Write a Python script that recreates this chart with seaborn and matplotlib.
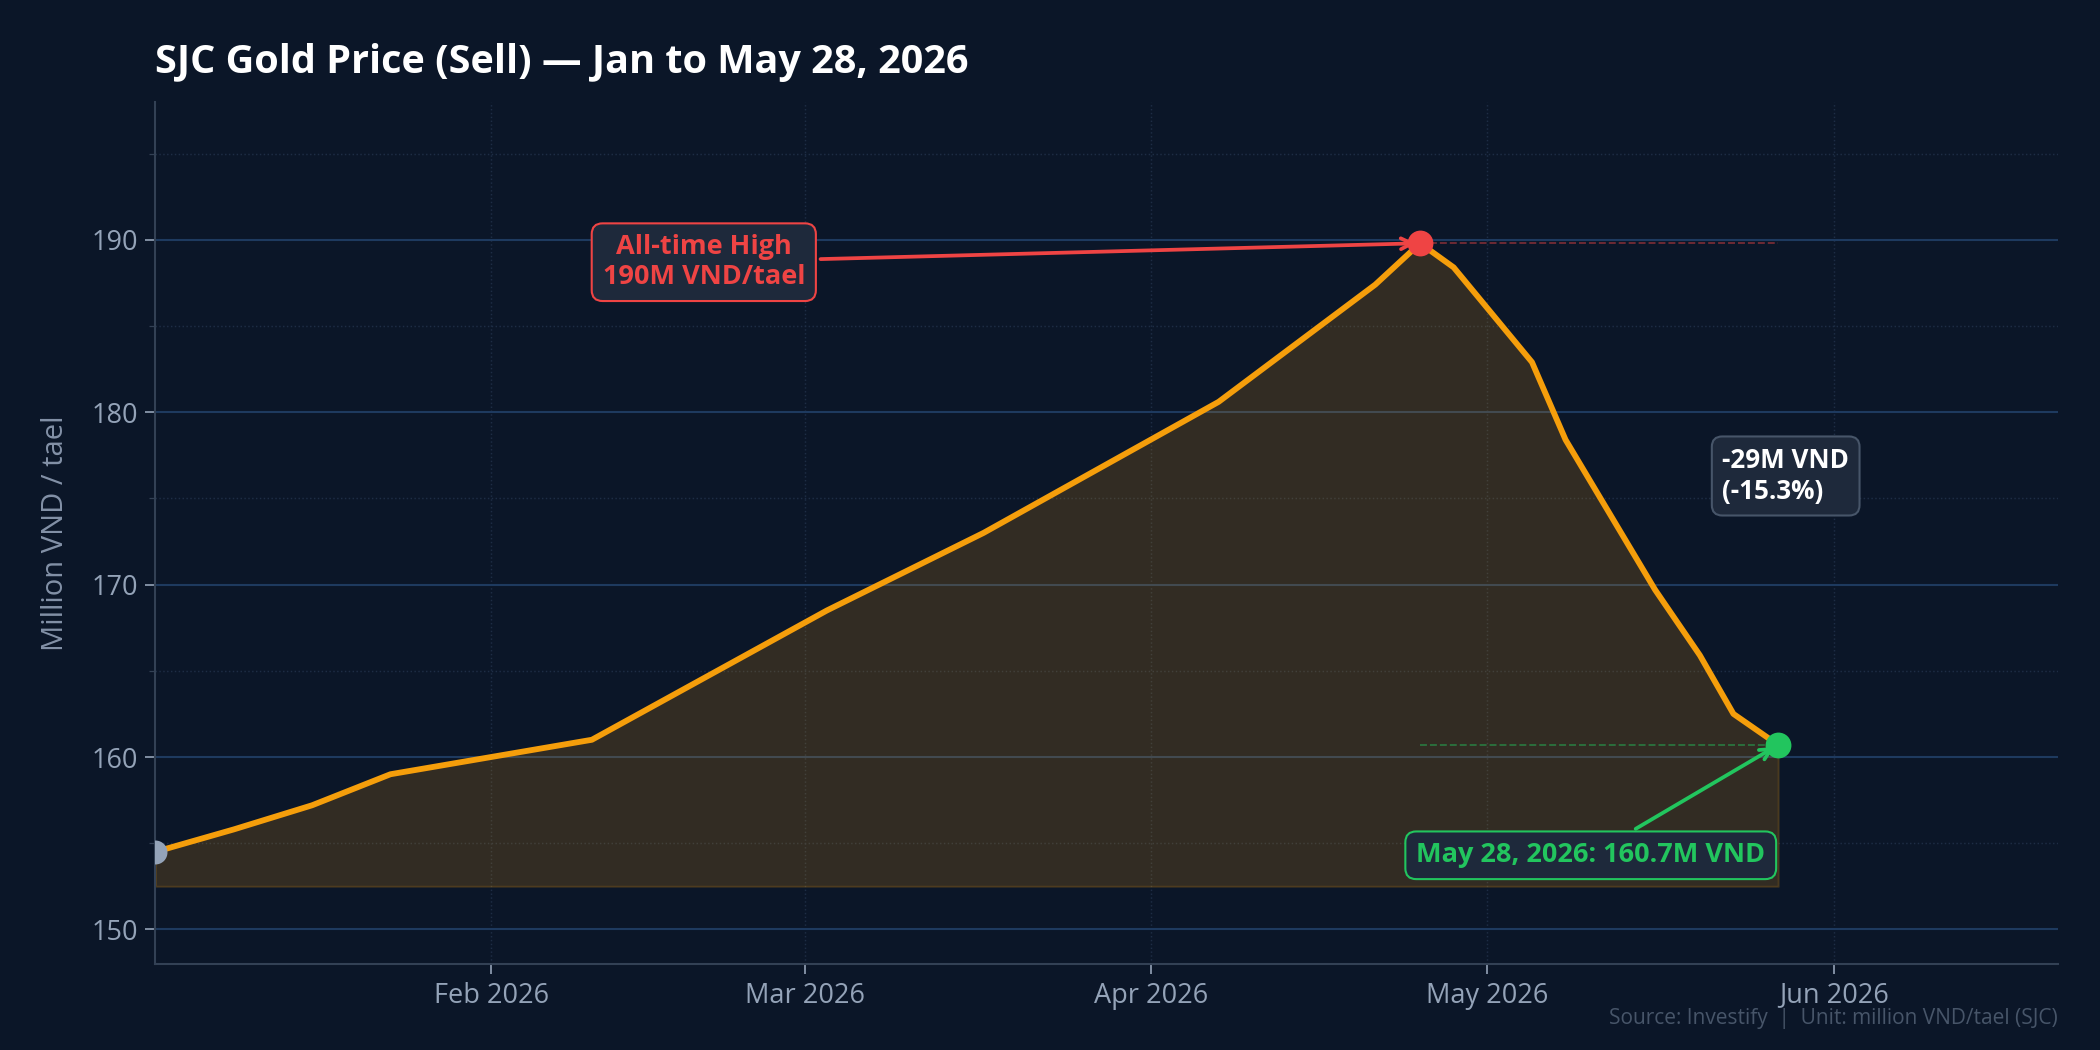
import pandas as pd
import matplotlib.pyplot as plt
import matplotlib.dates as mdates
from matplotlib.ticker import MultipleLocator
import seaborn as sns

# data (million VND / tael)
dates = ["2026-01-02", "2026-01-09", "2026-01-16", "2026-01-23", "2026-02-10",
         "2026-03-03", "2026-03-17", "2026-04-07", "2026-04-21", "2026-04-25",
         "2026-04-28", "2026-05-05", "2026-05-08", "2026-05-16", "2026-05-20",
         "2026-05-23", "2026-05-27"]
prices = [154.5, 155.8, 157.2, 159.0, 161.0,
          168.5, 173.0, 180.6, 187.4, 189.8,
          188.4, 182.9, 178.4, 169.7, 165.9,
          162.5, 160.7]

df = pd.DataFrame({"date": pd.to_datetime(dates), "price": prices})

BG = "#0b1628"
GOLD = "#f59e0b"
RED = "#ef4444"
GREEN = "#22c55e"
MUTED = "#94a3b8"

sns.set_style("dark")
plt.rcParams["font.family"] = ["Open Sans", "DejaVu Sans"]

fig, ax = plt.subplots(figsize=(14, 7), dpi=150)
fig.patch.set_facecolor(BG)
ax.set_facecolor(BG)
fig.subplots_adjust(left=0.074, right=0.98, top=0.903, bottom=0.082)

base = df["price"].min() - 2
ax.fill_between(df["date"], df["price"], base, color=GOLD, alpha=0.17, lw=1)
sns.lineplot(data=df, x="date", y="price", color=GOLD, lw=2.8, ax=ax, zorder=4)

# key points
i_max = df["price"].idxmax()
peak_d, peak_p = df["date"][i_max], df["price"][i_max]
last_d, last_p = df["date"].iloc[-1], df["price"].iloc[-1]
first_d, first_p = df["date"].iloc[0], df["price"].iloc[0]

ax.plot([peak_d, last_d], [peak_p, peak_p], ls="--", lw=0.9, color=RED, alpha=0.45, zorder=3)
ax.plot([peak_d, last_d], [last_p, last_p], ls="--", lw=0.9, color=GREEN, alpha=0.45, zorder=3)

ax.scatter([peak_d], [peak_p], s=130, color=RED, zorder=6)
ax.scatter([last_d], [last_p], s=130, color=GREEN, zorder=6)
ax.scatter([first_d], [first_p], s=110, color=MUTED, zorder=6)

ax.annotate("All-time High\n190M VND/tael", xy=(peak_d, peak_p),
            xytext=(pd.Timestamp("2026-02-20"), 188.7),
            ha="center", va="center", fontsize=13, fontweight="bold", color=RED,
            bbox=dict(boxstyle="round,pad=0.4", fc="#1e293b", ec=RED, lw=1),
            arrowprops=dict(arrowstyle="->", color=RED, lw=1.8), zorder=7)

ax.annotate("May 28, 2026: 160.7M VND", xy=(last_d, last_p),
            xytext=(pd.Timestamp("2026-05-10 06:00"), 154.3),
            ha="center", va="center", fontsize=13, fontweight="bold", color=GREEN,
            bbox=dict(boxstyle="round,pad=0.4", fc="#1e293b", ec=GREEN, lw=1),
            arrowprops=dict(arrowstyle="->", color=GREEN, lw=1.8), zorder=7)

drop = last_p - peak_p
ax.text(pd.Timestamp("2026-05-22"), 176.3,
        f"{drop:.0f}M VND\n({drop / peak_p * 100:.1f}%)",
        ha="left", va="center", fontsize=12.5, fontweight="bold", color="white",
        bbox=dict(boxstyle="round,pad=0.4", fc="#1e293b", ec="#475569", lw=1), zorder=7)

# axes
ax.set_xlim(pd.Timestamp("2026-01-02"), pd.Timestamp("2026-06-21"))
ax.set_ylim(148, 198)
ax.xaxis.set_major_locator(mdates.MonthLocator())
ax.xaxis.set_major_formatter(mdates.DateFormatter("%b %Y"))
ax.yaxis.set_major_locator(MultipleLocator(10))
ax.yaxis.set_minor_locator(MultipleLocator(5))

ax.grid(axis="y", which="major", color="#1e3a5f", lw=1, ls="-")
ax.grid(axis="y", which="minor", color="#1e2d45", lw=0.7, ls=":")
ax.grid(axis="x", which="major", color="#1e2d45", lw=0.7, ls=":")

ax.tick_params(axis="both", which="major", colors=MUTED, labelsize=13, length=5, width=0.8, left=True, bottom=True)
ax.tick_params(axis="y", which="minor", colors="#334155", length=3, left=True)
for s in ["top", "right"]:
    ax.spines[s].set_visible(False)
for s in ["left", "bottom"]:
    ax.spines[s].set_color("#334155")
    ax.spines[s].set_linewidth(1)

ax.set_xlabel("")
ax.set_ylabel("Million VND / tael", color="#8391a7", fontsize=14, labelpad=10)
ax.set_title("SJC Gold Price (Sell) \u2014 Jan to May 28, 2026", loc="left",
             color="white", fontsize=19, fontweight="bold", pad=14)

fig.text(0.98, 0.02, "Source: Investify  |  Unit: million VND/tael (SJC)",
         ha="right", va="bottom", color="#475569", fontsize=10)

plt.savefig("out.png", dpi=150, facecolor=BG)
